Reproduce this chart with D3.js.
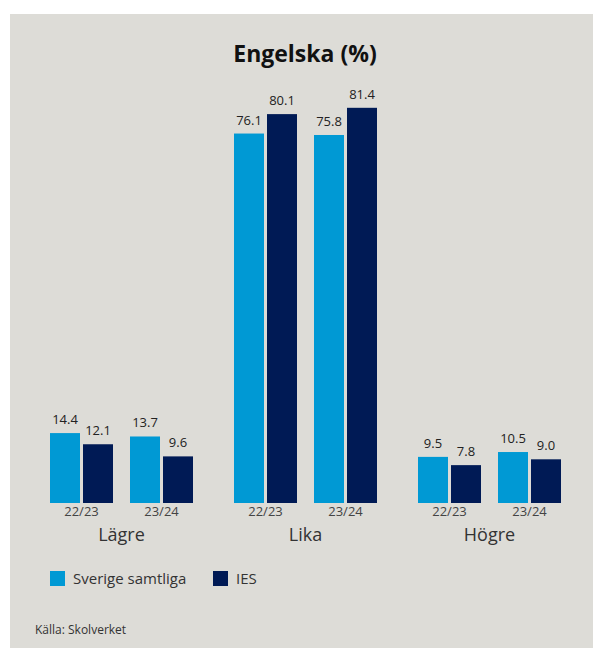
<!DOCTYPE html>
<html>
<head>
<meta charset="utf-8">
<script src="https://cdn.jsdelivr.net/npm/d3@7"></script>
<style>
  body { margin: 0; background: #fff; }
  text { font-family: "Open Sans", sans-serif; }
</style>
</head>
<body>
<svg id="chart" width="593" height="648"></svg>
<script>
// data
var groups = ["Lägre", "Lika", "Högre"];
var years = ["22/23", "23/24"];
var seriesNames = ["Sverige samtliga", "IES"];
var sverige = [14.4, 13.7, 76.1, 75.8, 9.5, 10.5];
var ies = [12.1, 9.6, 80.1, 81.4, 7.8, 9.0];
var colors = ["#0099d4", "#001a55"];

var data = [];
groups.forEach(function(g, gi) {
  years.forEach(function(yr, yi) {
    var k = gi * years.length + yi;
    data.push({group: g, year: yr, values: [sverige[k], ies[k]]});
  });
});

var svg = d3.select("#chart");

svg.append("rect")
    .attr("x", 10).attr("y", 14)
    .attr("width", 583).attr("height", 634)
    .attr("fill", "#dddcd7");

var x0 = d3.scaleBand()
    .domain(groups)
    .range([50, 561])
    .paddingInner(41 / 184)
    .paddingOuter(0);

var x1 = d3.scaleBand()
    .domain(years)
    .range([0, x0.bandwidth()])
    .paddingInner(0.2125);

var x2 = d3.scaleBand()
    .domain([0, 1])
    .range([0, x1.bandwidth()])
    .paddingInner(0.0909);

var y = d3.scaleLinear()
    .domain([0, 100])
    .range([503, 17.5]);

svg.append("text")
    .attr("x", 305).attr("y", 62)
    .attr("text-anchor", "middle")
    .attr("font-size", 23)
    .attr("font-weight", "bold")
    .attr("fill", "#111")
    .text("Engelska (%)");

var yearG = svg.selectAll(".year")
    .data(data)
  .enter().append("g")
    .attr("class", "year")
    .attr("transform", function(d) { return "translate(" + (x0(d.group) + x1(d.year)) + ",0)"; });

yearG.selectAll("rect")
    .data(function(d) { return d.values; })
  .enter().append("rect")
    .attr("x", function(d, i) { return x2(i); })
    .attr("y", function(d) { return y(d); })
    .attr("width", x2.bandwidth())
    .attr("height", function(d) { return y(0) - y(d); })
    .attr("fill", function(d, i) { return colors[i]; });

yearG.selectAll(".val")
    .data(function(d) { return d.values; })
  .enter().append("text")
    .attr("class", "val")
    .attr("x", function(d, i) { return x2(i) + x2.bandwidth() / 2; })
    .attr("y", function(d) { return y(d) - 9; })
    .attr("text-anchor", "middle")
    .attr("font-size", 13)
    .attr("fill", "#222")
    .text(function(d) { return d3.format(".1f")(d); });

yearG.append("text")
    .attr("x", x1.bandwidth() / 2)
    .attr("y", 516)
    .attr("text-anchor", "middle")
    .attr("font-size", 13)
    .attr("fill", "#444")
    .text(function(d) { return d.year; });

svg.selectAll(".grp")
    .data(groups)
  .enter().append("text")
    .attr("class", "grp")
    .attr("x", function(d) { return x0(d) + x0.bandwidth() / 2; })
    .attr("y", 541)
    .attr("text-anchor", "middle")
    .attr("font-size", 18)
    .attr("fill", "#333")
    .text(function(d) { return d; });

// legend
var legX = [50, 213];
var leg = svg.selectAll(".leg")
    .data(seriesNames)
  .enter().append("g")
    .attr("class", "leg")
    .attr("transform", function(d, i) { return "translate(" + legX[i] + ",571)"; });
leg.append("rect")
    .attr("width", 15).attr("height", 15)
    .attr("fill", function(d, i) { return colors[i]; });
leg.append("text")
    .attr("x", 23).attr("y", 13)
    .attr("font-size", 15)
    .attr("fill", "#333")
    .text(function(d) { return d; });

svg.append("text")
    .attr("x", 35).attr("y", 634)
    .attr("font-size", 12)
    .attr("fill", "#333")
    .text("Källa: Skolverket");
</script>
</body>
</html>
